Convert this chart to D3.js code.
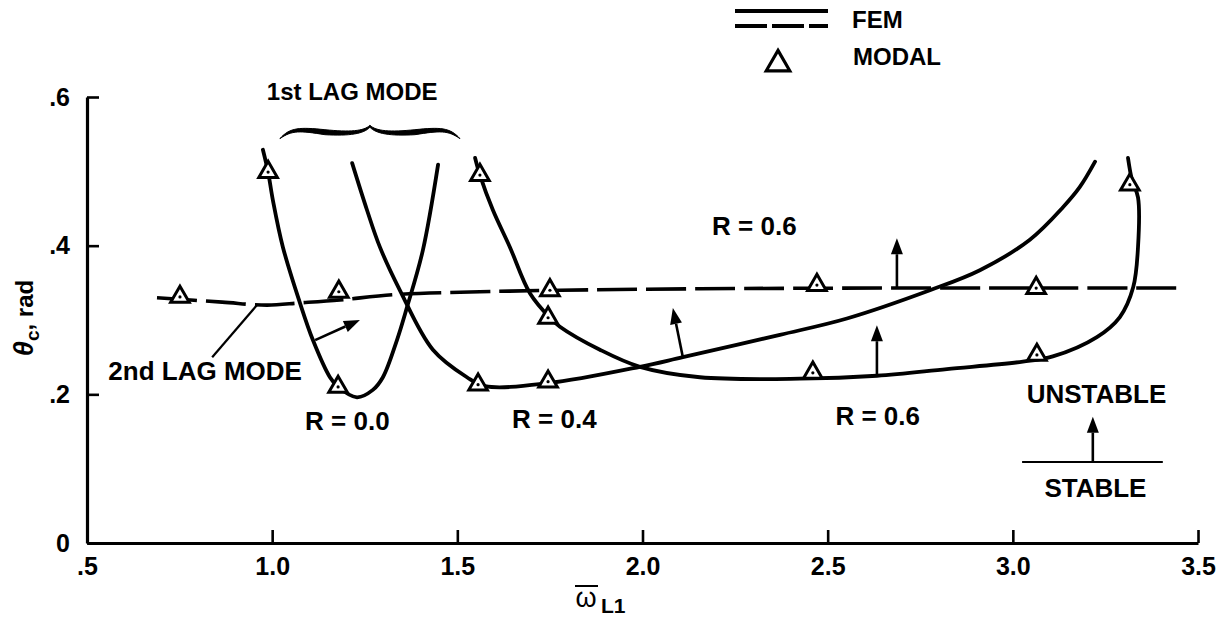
<!DOCTYPE html>
<html>
<head>
<meta charset="utf-8">
<script src="https://cdn.jsdelivr.net/npm/d3@7"></script>
<style>
  html, body { margin: 0; padding: 0; background: #fff; }
  svg { display: block; }
  text { font-family: "Liberation Sans", Arial, Helvetica, sans-serif; font-weight: bold; fill: #000; }
</style>
</head>
<body>
<svg id="chart" width="1222" height="620"></svg>
<script>
// Axis ticks
const xTicks = [0.5, 1.0, 1.5, 2.0, 2.5, 3.0, 3.5];
const xTickLabels = [".5", "1.0", "1.5", "2.0", "2.5", "3.0", "3.5"];
const yTicks = [0, 0.2, 0.4, 0.6];
const yTickLabels = ["0", ".2", ".4", ".6"];

// FEM, 2nd lag mode (dashed)
const lag2X = [0.689, 0.865, 0.986, 1.075, 1.183, 1.326, 1.561, 1.777, 2.155, 2.695, 3.465];
const lag2Y = [0.330, 0.324, 0.320, 0.323, 0.327, 0.334, 0.338, 0.340, 0.342, 0.343, 0.343];

// FEM, 1st lag mode, R = 0.0
const r00X = [0.975, 0.989, 1.002, 1.029, 1.075, 1.110, 1.156, 1.178, 1.229, 1.272, 1.299, 1.337, 1.364, 1.407, 1.448];
const r00Y = [0.529, 0.499, 0.461, 0.398, 0.323, 0.273, 0.223, 0.210, 0.196, 0.206, 0.223, 0.273, 0.317, 0.394, 0.509];

// FEM, 1st lag mode, R = 0.4
const r04X = [1.216, 1.256, 1.291, 1.345, 1.434, 1.526, 1.575, 1.745, 1.993, 2.109, 2.371, 2.552, 2.776, 2.911, 3.046, 3.136, 3.181, 3.222];
const r04Y = [0.511, 0.448, 0.398, 0.340, 0.260, 0.223, 0.211, 0.215, 0.237, 0.250, 0.280, 0.302, 0.340, 0.367, 0.408, 0.452, 0.479, 0.513];

// FEM, 1st lag mode, R = 0.6
const r06X = [1.548, 1.561, 1.596, 1.642, 1.696, 1.750, 1.777, 1.885, 1.993, 2.155, 2.425, 2.633, 2.822, 3.027, 3.108, 3.227, 3.289, 3.325, 3.338, 3.338, 3.322, 3.311];
const r06Y = [0.518, 0.495, 0.448, 0.398, 0.336, 0.303, 0.291, 0.260, 0.237, 0.223, 0.221, 0.225, 0.234, 0.244, 0.251, 0.277, 0.304, 0.344, 0.398, 0.465, 0.488, 0.518];

// Modal results (triangles)
const modalLag2X = [0.751, 1.180, 1.750, 2.471, 3.063];
const modalLag2Y = [0.331, 0.338, 0.340, 0.347, 0.343];
const modalR00X = [0.989, 1.178];
const modalR00Y = [0.499, 0.210];
const modalR04X = [1.556, 1.745];
const modalR04Y = [0.213, 0.217];
const modalR06X = [1.561, 1.745, 2.460, 3.065, 3.316];
const modalR06Y = [0.495, 0.303, 0.229, 0.253, 0.482];

const zip = (xs, ys) => xs.map((x, i) => [x, ys[i]]);

const svg = d3.select("#chart");
svg.append("rect").attr("width", 1222).attr("height", 620).attr("fill", "#fff");

const x = d3.scaleLinear().domain([0.5, 3.5]).range([87, 1198]);
const y = d3.scaleLinear().domain([0, 0.6]).range([543, 97]);

const FS = 26;   // annotation text
const TFS = 25;  // tick labels

// Axes
const xAxis = d3.axisBottom(x).tickValues(xTicks)
  .tickFormat((d, i) => xTickLabels[i]).tickSizeInner(-13).tickSizeOuter(0).tickPadding(14);
const yAxis = d3.axisLeft(y).tickValues(yTicks)
  .tickFormat((d, i) => yTickLabels[i]).tickSizeInner(-12).tickSizeOuter(0).tickPadding(17);

const gx = svg.append("g").attr("transform", `translate(0,${y(0)})`).call(xAxis);
const gy = svg.append("g").attr("transform", `translate(${x(0.5)},0)`).call(yAxis);
[gx, gy].forEach(g => {
  g.select(".domain").attr("stroke", "#000").attr("stroke-width", 3.2);
  g.selectAll(".tick line").attr("stroke", "#000").attr("stroke-width", 2.6);
  g.selectAll(".tick text").style("font-size", TFS + "px").style("font-weight", "bold")
    .style("font-family", '"Liberation Sans", Arial, sans-serif').attr("fill", "#000");
});

// Axis titles
const yTitle = svg.append("text")
  .attr("transform", "translate(33,318) rotate(-90)")
  .attr("text-anchor", "middle")
  .style("font-size", "24px");
yTitle.append("tspan").text("θ").style("font-style", "italic").style("font-size", "27px");
yTitle.append("tspan").text("c").attr("dy", 6).style("font-size", "19px");
yTitle.append("tspan").text(", rad").attr("dy", -6);

svg.append("text").attr("x", 586).attr("y", 607).attr("text-anchor", "middle")
  .style("font-size", "27px").style("font-weight", "normal").text("ω");
svg.append("line").attr("x1", 575).attr("x2", 598).attr("y1", 586).attr("y2", 586)
  .attr("stroke", "#000").attr("stroke-width", 2);
svg.append("text").attr("x", 601).attr("y", 613).style("font-size", "21px").text("L1");

// Curves
const line = d3.line().x(d => x(d[0])).y(d => y(d[1])).curve(d3.curveCatmullRom.alpha(0.5));

svg.append("path").datum(zip(lag2X, lag2Y)).attr("d", line)
  .attr("fill", "none").attr("stroke", "#000").attr("stroke-width", 3.6)
  .attr("stroke-dasharray", "40,9");

[[r00X, r00Y], [r04X, r04Y], [r06X, r06Y]].forEach(([xs, ys]) => {
  svg.append("path").datum(zip(xs, ys)).attr("d", line)
    .attr("fill", "none").attr("stroke", "#000").attr("stroke-width", 3.8)
    .attr("stroke-linecap", "round");
});

// Modal triangles
function drawTriangles(xs, ys, g, size) {
  const s = d3.symbol().type(d3.symbolTriangle).size(size);
  zip(xs, ys).forEach(p => {
    const cx = x(p[0]), cy = y(p[1]);
    g.append("path").attr("d", s()).attr("transform", `translate(${cx},${cy})`)
      .attr("fill", "#fff").attr("stroke", "#000").attr("stroke-width", 3)
      .attr("stroke-linejoin", "miter");
    g.append("circle").attr("cx", cx).attr("cy", cy).attr("r", 1.6).attr("fill", "#000");
  });
}
const gm = svg.append("g");
drawTriangles(modalLag2X, modalLag2Y, gm, 150);
drawTriangles(modalR00X, modalR00Y, gm, 150);
drawTriangles(modalR04X, modalR04Y, gm, 150);
drawTriangles(modalR06X, modalR06Y, gm, 150);

// Arrows showing the unstable side of each boundary
function arrow(x0, y0, x1, y1) {
  const px0 = x(x0), py0 = y(y0), px1 = x(x1), py1 = y(y1);
  const dx = px1 - px0, dy = py1 - py0, len = Math.hypot(dx, dy);
  const ux = dx / len, uy = dy / len, hl = 16, hw = 6;
  const bx = px1 - ux * hl, by = py1 - uy * hl;
  svg.append("line").attr("x1", px0).attr("y1", py0).attr("x2", bx).attr("y2", by)
    .attr("stroke", "#000").attr("stroke-width", 2.6);
  svg.append("path")
    .attr("d", `M${px1},${py1}L${bx - uy * hw},${by + ux * hw}L${bx + uy * hw},${by - ux * hw}Z`)
    .attr("fill", "#000");
}
arrow(1.116, 0.273, 1.237, 0.300);
arrow(2.109, 0.250, 2.082, 0.316);
arrow(2.687, 0.344, 2.687, 0.410);
arrow(2.633, 0.226, 2.633, 0.293);
arrow(3.216, 0.109, 3.216, 0.170);

// Stable / unstable key
svg.append("line").attr("x1", x(3.025)).attr("x2", x(3.405)).attr("y1", y(0.109)).attr("y2", y(0.109))
  .attr("stroke", "#000").attr("stroke-width", 2.2);

// Leader for 2nd lag mode
svg.append("line").attr("x1", x(0.959)).attr("y1", y(0.320)).attr("x2", x(0.838)).attr("y2", y(0.250))
  .attr("stroke", "#000").attr("stroke-width", 2.2);

// Brace over the 1st lag mode curves
(function () {
  const L = x(1.021), R = x(1.507), M = x(1.264);
  const e = y(0.544), b = y(0.554), t = y(0.562);
  const h1 = (L + M) / 2, h2 = (M + R) / 2;
  const d = `M${L},${e}` +
    `C${L + 10},${b - 4} ${h1 - 25},${b - 4} ${h1},${b - 1.5}` +
    `C${h1 + 25},${b + 1} ${M - 6},${b} ${M},${t}` +
    `C${M + 6},${b} ${h2 - 25},${b + 1} ${h2},${b - 1.5}` +
    `C${h2 + 25},${b - 4} ${R - 10},${b - 4} ${R},${e}` +
    `C${R - 12},${b - 1} ${h2 + 25},${b - 0.5} ${h2},${b + 3.5}` +
    `C${h2 - 25},${b + 5} ${M + 6},${b + 2.5} ${M},${t + 2}` +
    `C${M - 6},${b + 2.5} ${h1 + 25},${b + 5} ${h1},${b + 3.5}` +
    `C${h1 - 25},${b - 0.5} ${L + 12},${b - 1} ${L},${e}Z`;
  svg.append("path").attr("d", d).attr("fill", "#000").attr("stroke", "#000").attr("stroke-width", 1);
})();

// Annotations
function label(t, dx, dy, size) {
  svg.append("text").attr("x", x(dx)).attr("y", y(dy)).attr("text-anchor", "middle")
    .style("font-size", (size || FS) + "px").text(t);
}
label("1st LAG MODE", 1.216, 0.596, 24);
label("2nd LAG MODE", 0.819, 0.219);
label("R = 0.0", 1.203, 0.152);
label("R = 0.4", 1.762, 0.155);
label("R = 0.6", 2.635, 0.159);
label("R = 0.6", 2.302, 0.414);
label("UNSTABLE", 3.226, 0.188);
label("STABLE", 3.223, 0.062);

// Legend
svg.append("line").attr("x1", 735).attr("x2", 828).attr("y1", 11).attr("y2", 11)
  .attr("stroke", "#000").attr("stroke-width", 3.8);
svg.append("line").attr("x1", 735).attr("x2", 828).attr("y1", 26).attr("y2", 26)
  .attr("stroke", "#000").attr("stroke-width", 3.8).attr("stroke-dasharray", "32,5");
svg.append("text").attr("x", 852).attr("y", 28).style("font-size", "24px").text("FEM");
svg.append("path").attr("d", d3.symbol().type(d3.symbolTriangle).size(240)())
  .attr("transform", "translate(778,64)")
  .attr("fill", "#fff").attr("stroke", "#000").attr("stroke-width", 3.2);
svg.append("text").attr("x", 853).attr("y", 65).style("font-size", "24px").text("MODAL");
</script>
</body>
</html>
